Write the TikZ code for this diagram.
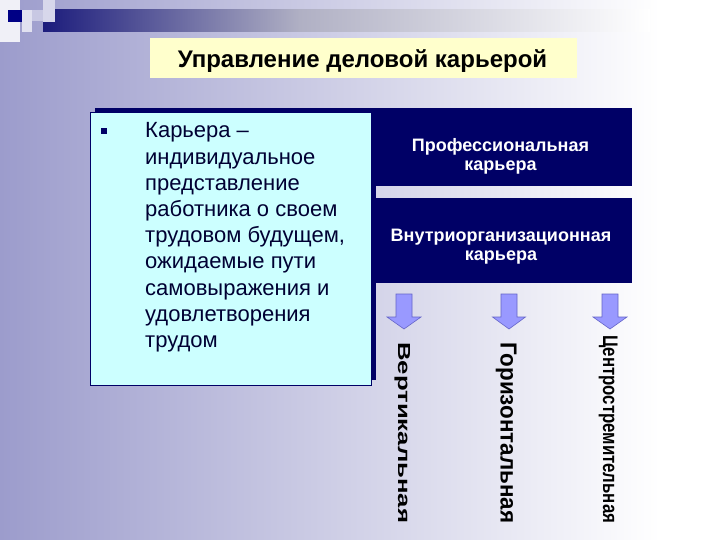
\documentclass[tikz,border=0pt]{standalone}
\usepackage{fontspec}
\usepackage{graphicx}
\setmainfont{Liberation Sans}
\definecolor{bgleft}{RGB}{156,156,204}
\definecolor{navy}{RGB}{0,0,102}
\definecolor{barnavy}{RGB}{28,28,124}
\definecolor{barmid}{RGB}{176,176,196}
\definecolor{titlefill}{RGB}{255,255,204}
\definecolor{cyanbox}{RGB}{204,255,255}
\definecolor{arrowfill}{RGB}{153,153,255}
\definecolor{arrowline}{RGB}{100,100,200}
\definecolor{bodytext}{RGB}{0,0,51}
\tikzset{
  navybox/.style={fill=navy, draw=none, minimum width=260pt, minimum height=#1, inner sep=0pt},
  navytext/.style={text=white, font=\bfseries\fontsize{18}{19}\selectfont, align=center, inner sep=0pt},
  blockarrow/.style={fill=arrowfill, draw=arrowline, line width=0.6pt, line join=miter},
  verttext/.style={rotate=-90, anchor=base west, inner sep=0pt, font=\bfseries\fontsize{20}{24}\selectfont, text=black},
}
\begin{document}
\begin{tikzpicture}[x=1pt,y=-1pt]
\useasboundingbox (0,0) rectangle (720,540);
% background
\fill[white] (0,0) rectangle (720,540);
\shade[left color=bgleft, right color=white] (0,0) rectangle (660,540);
% top-left decoration
\shade[left color=barnavy, right color=barmid] (43,10) rectangle (300,32);
\shade[left color=barmid, right color=white] (299.5,10) rectangle (650,32);
\fill[white!85!bgleft] (0,0) rectangle (20,42);
\fill[navy!80!blue] (8,10) rectangle (22,22);
\fill[white!70!bgleft] (22,10) rectangle (32,32);
\fill[white!45!bgleft] (32,10) rectangle (43,21);
\fill[white!60!bgleft] (43,0) rectangle (55,22);
% title
\node[fill=titlefill, minimum width=427pt, minimum height=40pt, inner sep=0pt] (titlebox) at (363.5,58) {};
\node[anchor=base, inner sep=0pt, font=\bfseries\fontsize{24}{28}\selectfont] (title) at (362.5,68) {Управление деловой карьерой};
% left box with shadow
\fill[navy] (95,108) rectangle (376,380);
\node[draw=navy, line width=0.8pt, fill=cyanbox, minimum width=281pt, minimum height=273pt, inner sep=0pt] (defbox) at (230.5,248.5) {};
\node[fill=navy, minimum size=6pt, inner sep=0pt] (bullet) at (104,131) {};
\node[anchor=north west, inner sep=0pt, align=left, text=bodytext, font=\fontsize{22}{26.2}\selectfont] (deftext) at (145,122.5) {Карьера –\\индивидуальное\\представление\\работника о своем\\трудовом будущем,\\ожидаемые пути\\самовыражения и\\удовлетворения\\трудом};
% navy boxes
\node[navybox=78pt] (prof) at (502,147) {};
\node[navytext] (proftext) at (500.5,156.5) {Профессиональная\\карьера};
\node[navybox=85pt] (vnutr) at (502,240.5) {};
\node[navytext] (vnutrtext) at (501,246.5) {Внутриорганизационная\\карьера};
% arrows
\draw[blockarrow] (396,294) -- (412,294) -- (412,317) -- (421,317) -- (404,329) -- (387,317) -- (396,317) -- cycle;
\draw[blockarrow] (501,294) -- (517,294) -- (517,317) -- (525.5,317) -- (509,329) -- (492.5,317) -- (501,317) -- cycle;
\draw[blockarrow] (602,294) -- (618,294) -- (618,317) -- (627,317) -- (610,329) -- (593,317) -- (602,317) -- cycle;
% vertical labels
\node[verttext] (vert) at (398,342) {\resizebox{181pt}{12pt}{Вертикальная}};
\node[verttext] (horiz) at (500.5,342) {\resizebox{181pt}{16pt}{Горизонтальная}};
\node[verttext] (centr) at (603,335) {\resizebox{188pt}{14.5pt}{Центростремительная}};
\end{tikzpicture}
\end{document}
